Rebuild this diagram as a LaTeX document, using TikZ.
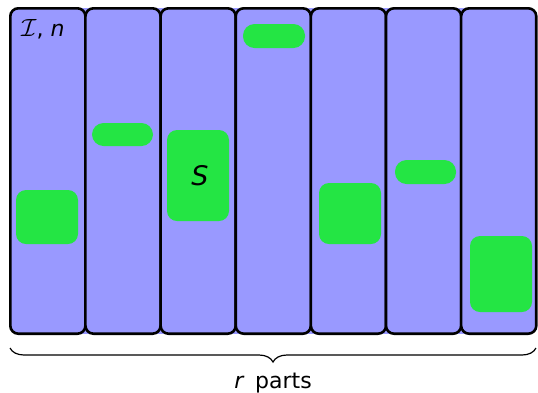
\documentclass[tikz,border=0pt]{standalone}
\usepackage{fontspec}
\setmainfont{DejaVu Sans}
\usetikzlibrary{decorations.pathreplacing}
\definecolor{colpurple}{RGB}{153,153,255}
\definecolor{boxgreen}{RGB}{36,229,68}
\tikzset{
  partcol/.style={draw=black, line width=2.6pt, fill=colpurple, rounded corners=8pt},
  greenbox/.style={fill=boxgreen, rounded corners=10pt},
  greenbar/.style={fill=boxgreen, rounded corners=11.5pt},
  lbl/.style={font=\fontsize{22}{26}\selectfont, inner sep=0pt},
  biglbl/.style={font=\fontsize{27}{32}\selectfont, inner sep=0pt},
}
\begin{document}
\begin{tikzpicture}[x=1pt,y=-1pt]
\useasboundingbox (0,0) rectangle (538,392);
\fill[colpurple] (20,8.2) rectangle (526,333.8);
\foreach \i in {0,...,6}{
  \pgfmathsetmacro{\xa}{10.3+75.14*\i}
  \pgfmathsetmacro{\xb}{10.3+75.14*(\i+1)}
  \draw[partcol] (\xa,8.3) rectangle (\xb,333.7);
}
% green shapes
\fill[greenbox] (16,190) rectangle (78,244);
\fill[greenbar] (92,123) rectangle (153,146);
\fill[greenbox] (167,130) rectangle (229,221);
\fill[greenbar] (243,24) rectangle (305,48);
\fill[greenbox] (319,183) rectangle (381,244);
\fill[greenbar] (395,160) rectangle (456,184);
\fill[greenbox] (470,236) rectangle (532,312);
% labels
\node[lbl, anchor=base west] (In) at (21,36.5) {{\fontsize{29}{32}\selectfont$\mathcal{I}$},\hspace{7pt}\textit{n}};
\node[biglbl] (S) at (200,176) {\textit{S}};
% brace
\coordinate (bl) at (10,348);
\coordinate (br) at (536,348);
\draw[line width=1.2pt, decorate, decoration={brace, mirror, amplitude=14pt}] (bl) -- (br);
\node[lbl, anchor=base] (parts) at (273,388) {\textit{r}\, parts};
\end{tikzpicture}
\end{document}
